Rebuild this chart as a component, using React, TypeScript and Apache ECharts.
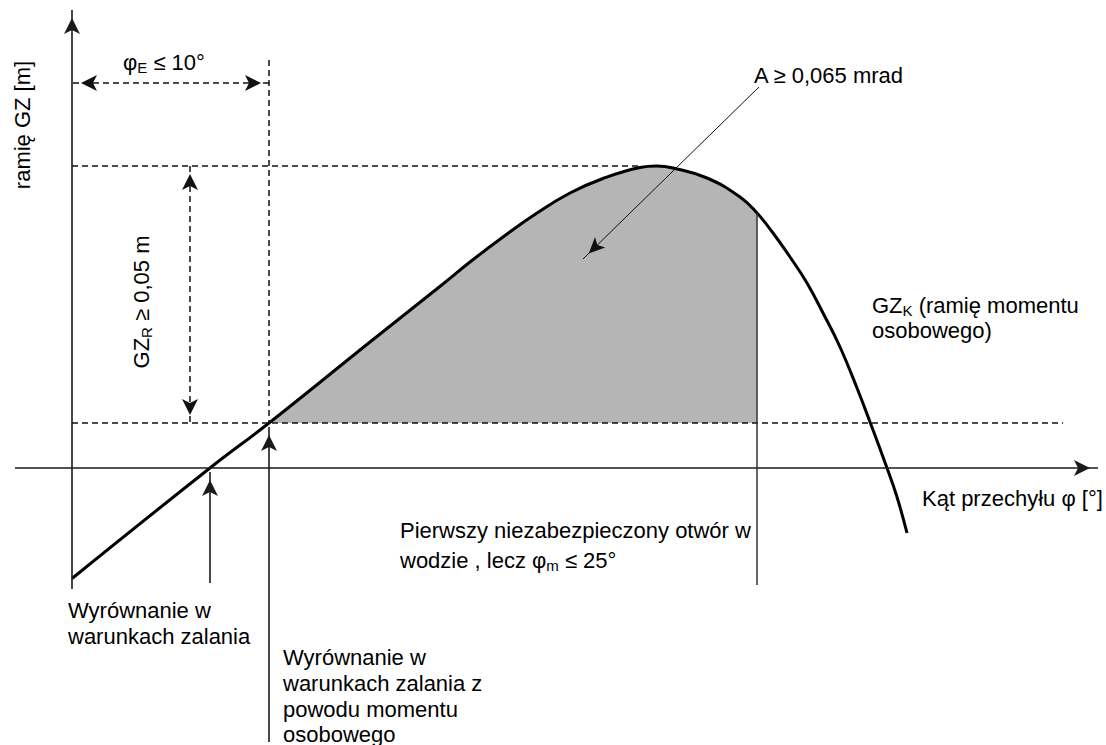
import React, { useEffect, useRef } from "react";
import * as echarts from "echarts";

// GZ curve: heel angle φ [°] and righting lever GZ [m]
const PHI = [0, 6.9, 9.85, 14.9, 18.55, 19.9, 21.55, 23.25, 24.9, 26.55, 28.4, 29.23, 30.05, 31.75, 33.4, 34.25, 35.05, 35.9, 36.75, 37.55, 38.4, 39.25, 39.9, 40.75, 41.25, 41.75];
const GZ = [-0.0221, 0, 0.009, 0.0252, 0.0368, 0.0412, 0.0462, 0.051, 0.055, 0.0579, 0.0601, 0.0604, 0.06, 0.058, 0.0542, 0.051, 0.047, 0.0422, 0.037, 0.031, 0.0242, 0.016, 0.0092, 0, -0.0058, -0.013];

// characteristic values
const PHI_EQ = 6.9; // equilibrium in flooded condition
const PHI_E = 9.85; // equilibrium incl. passenger moment
const PHI_M = 34.25; // first unprotected opening
const GZ_BASE = 0.009;
const GZ_PEAK = 0.0604;

const FONT = "'Liberation Sans', Arial, Helvetica, sans-serif";
const FS = 22;

export default function App() {
  const ref = useRef<HTMLDivElement>(null);

  useEffect(() => {
    if (!ref.current) return;
    const chart = echarts.init(ref.current, null, { renderer: "svg" });

    const curve = PHI.map((p, i) => [p, GZ[i]]);
    const shaded = curve.filter((d) => d[0] >= PHI_E && d[0] <= PHI_M);

    const pt = (coord: number[], arrow = false, size = [12, 16]) => ({
      coord,
      symbol: arrow ? "arrow" : "none",
      symbolSize: size,
      symbolOffset: [0, size[1] / 2],
    });

    const dashed = { color: "#111", width: 1.5, type: [6, 4] as any };
    const solid = { color: "#1a1a1a", width: 1.6, type: "solid" as any };

    const markLines = [
      // axes
      [{ ...pt([-2.85, 0]), lineStyle: solid }, pt([51.3, 0], true)],
      [{ ...pt([0, -0.0242]), lineStyle: solid }, pt([0, 0.0916], true)],
      // dashed guide lines
      [{ ...pt([0, GZ_PEAK]), lineStyle: dashed }, pt([28.4, GZ_PEAK])],
      [{ ...pt([0, GZ_BASE]), lineStyle: dashed }, pt([49.55, GZ_BASE])],
      [{ ...pt([PHI_E, 0.0816]), lineStyle: dashed }, pt([PHI_E, GZ_BASE])],
      [{ ...pt([0.05, 0.077], true), lineStyle: dashed }, pt([PHI_E, 0.077], true)],
      [{ ...pt([5.9, GZ_PEAK], true), lineStyle: dashed }, pt([5.9, GZ_BASE], true)],
      // pointers
      [{ ...pt([PHI_EQ, -0.023]), lineStyle: solid }, pt([PHI_EQ, -0.0008], true)],
      [{ ...pt([PHI_E, -0.0548]), lineStyle: solid }, pt([PHI_E, 0.0082], true)],
      [{ ...pt([PHI_M, 0.051]), lineStyle: { color: "#333", width: 1.5, type: "solid" } }, pt([PHI_M, -0.0234])],
      [{ ...pt([34.35, 0.0762]), lineStyle: { color: "#111", width: 1, type: "solid" } }, pt([25.55, 0.0418], true, [11, 16])],
    ];

    const text = (t: string, x: number, y: number, extra: any = {}, props: any = {}) => ({
      type: "text",
      x,
      y,
      silent: true,
      ...props,
      style: {
        text: t,
        fill: "#000",
        fontSize: FS,
        fontFamily: FONT,
        align: "left",
        textAlign: "left",
        verticalAlign: "middle",
        textVerticalAlign: "middle",
        ...extra,
      },
    });

    const rich = {
      b: { fontSize: FS, fontFamily: FONT, fill: "#000", lineHeight: 25, verticalAlign: "middle" },
      s: { fontSize: 15, fontFamily: FONT, fill: "#000", lineHeight: 15, verticalAlign: "bottom" },
    };

    const graphics = [
      text("ramię GZ [m]", 22, 125, { align: "center", textAlign: "center" }, { rotation: Math.PI / 2 }),
      text("{b|φ}{s|E}{b| ≤ 10°}", 123, 62, { rich }),
      text("{b|GZ}{s|R}{b| ≥ 0,05 m}", 141, 302, { rich, align: "center", textAlign: "center" }, { rotation: Math.PI / 2 }),
      text("A ≥ 0,065 mrad", 754, 75),
      text("{b|GZ}{s|K}{b| (ramię momentu}", 872, 305, { rich }),
      text("osobowego)", 872, 330),
      text("Kąt przechyłu φ [°]", 922, 498),
      text("Pierwszy niezabezpieczony otwór w", 400, 530),
      text("{b|wodzie , lecz φ}{s|m}{b| ≤ 25°}", 400, 560, { rich }),
      text("Wyrównanie w", 68, 610),
      text("warunkach zalania", 68, 636),
      text("Wyrównanie w", 283, 657),
      text("warunkach zalania z", 283, 683),
      text("powodu momentu", 283, 709),
      text("osobowego", 283, 734),
    ];

    chart.setOption({
      animation: false,
      backgroundColor: "#ffffff",
      grid: { left: 0, right: 0, top: 0, bottom: 0, containLabel: false },
      xAxis: { type: "value", min: -3.6, max: 51.7, show: false },
      yAxis: { type: "value", min: -0.0554, max: 0.0936, show: false },
      graphic: graphics,
      series: [
        {
          type: "line",
          data: shaded,
          smooth: 0.45,
          showSymbol: false,
          silent: true,
          z: 1,
          lineStyle: { width: 0, color: "#b5b5b5" },
          areaStyle: { color: "#b5b5b5", opacity: 1, origin: GZ_BASE },
        },
        {
          type: "line",
          data: [],
          silent: true,
          z: 2,
          markLine: {
            silent: true,
            animation: false,
            label: { show: false },
            emphasis: { disabled: true },
            data: markLines,
          },
        },
        {
          type: "line",
          data: curve,
          smooth: 0.45,
          showSymbol: false,
          silent: true,
          z: 3,
          lineStyle: { width: 3, color: "#000" },
        },
      ],
    });

    return () => chart.dispose();
  }, []);

  return (
    <div
      ref={ref}
      style={{ position: "absolute", left: 0, top: 0, width: 1106, height: 745, background: "#fff" }}
    />
  );
}
